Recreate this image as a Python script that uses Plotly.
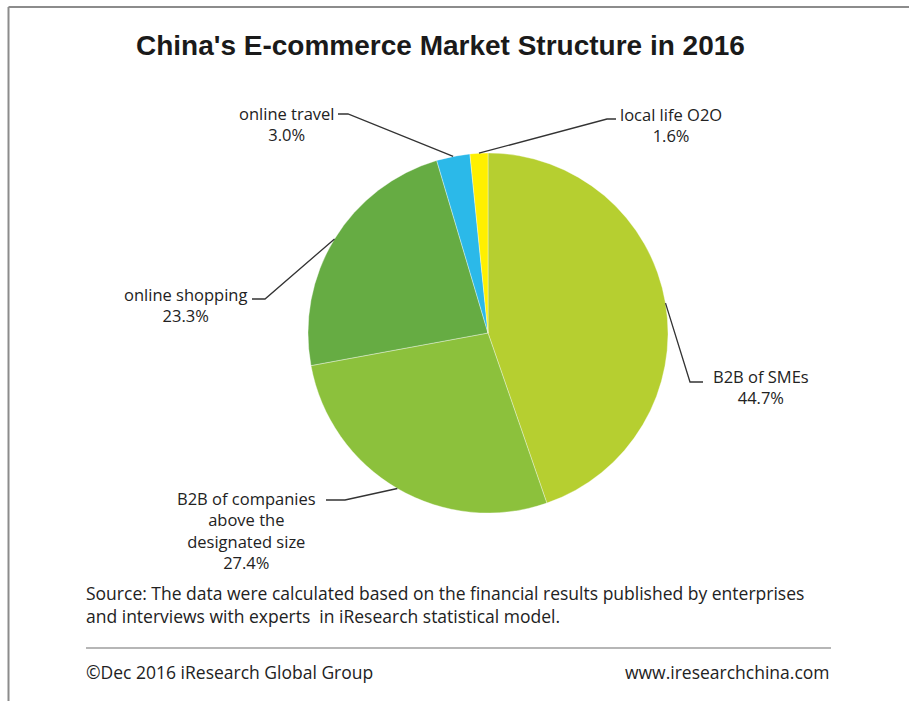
import math
import plotly.graph_objects as go

# Market share by segment, 2016 (%), clockwise from 12 o'clock
segments = ["B2B of SMEs", "B2B of companies above the designated size",
            "online shopping", "online travel", "local life O2O"]
shares = [44.7, 27.4, 23.3, 3.0, 1.6]
label_text = ["B2B of SMEs", "B2B of companies<br>above the<br>designated size",
              "online shopping", "online travel", "local life O2O"]
colors = ["#b6cf30", "#8cc13c", "#66ac43", "#2bb9e9", "#fff000"]

title = "China's E-commerce Market Structure in 2016"
source_lines = ["Source: The data were calculated based on the financial results published by enterprises",
                "and interviews with experts  in iResearch statistical model."]
copyright_note = "©Dec 2016 iResearch Global Group"
website = "www.iresearchchina.com"

W, H = 909, 701
CX, CY, R = 488, 333, 180  # pie centre and radius in pixels


def px(x):
    return x / W


def py(y):
    return 1 - y / H


LABEL_FONT = dict(family="Open Sans, Arial, sans-serif", size=16.5, color="#222222")
NOTE_FONT = dict(family="Open Sans, Arial, sans-serif", size=17.5, color="#222222")

# label placement per segment: text centre x, first-line centre y, elbow and end of leader
label_layout = {
    "B2B of SMEs": dict(tx=761, ty=375, knee=(690, 382), end=(703, 382)),
    "B2B of companies above the designated size": dict(tx=247, ty=497, knee=(345, 500), end=(326, 500)),
    "online shopping": dict(tx=185, ty=293, knee=(265, 299), end=(252, 299)),
    "online travel": dict(tx=287, ty=112, knee=(348, 114), end=(338, 114)),
    "local life O2O": dict(tx=671, ty=113, knee=(607, 119), end=(616, 119)),
}

fig = go.Figure(go.Pie(
    labels=segments,
    values=shares,
    sort=False,
    direction="clockwise",
    rotation=0,
    marker=dict(colors=colors, line=dict(color="rgba(255,255,255,0.6)", width=0.6)),
    textinfo="none",
    hoverinfo="label+value",
    showlegend=False,
    domain=dict(x=[px(CX - R), px(CX + R)], y=[py(CY + R), py(CY - R)]),
))

shapes = []
annotations = []
total = sum(shares)
cum = 0.0
for name, val, txt in zip(segments, shares, label_text):
    ang = 2 * math.pi * (cum + val / 2) / total
    cum += val
    rx = CX + R * math.sin(ang)
    ry = CY - R * math.cos(ang)
    lay = label_layout[name]
    (kx, ky), (ex, ey) = lay["knee"], lay["end"]
    shapes.append(dict(
        type="path", xref="paper", yref="paper",
        path=f"M {px(rx)} {py(ry)} L {px(kx)} {py(ky)} L {px(ex)} {py(ey)}",
        line=dict(color="#333333", width=1.3),
    ))
    annotations.append(dict(
        x=px(lay["tx"]), y=py(lay["ty"] - 12), xref="paper", yref="paper",
        xanchor="center", yanchor="top", align="center", showarrow=False,
        text=f"{txt}<br>{val:.1f}%", font=LABEL_FONT,
    ))

# frame lines at the top and left edges
shapes.append(dict(type="line", xref="paper", yref="paper",
                   x0=px(8.5), y0=py(7), x1=1, y1=py(7),
                   line=dict(color="#8c8c8c", width=2)))
shapes.append(dict(type="line", xref="paper", yref="paper",
                   x0=px(8.5), y0=py(7), x1=px(8.5), y1=0,
                   line=dict(color="#8c8c8c", width=2)))
# rule above the footer
shapes.append(dict(type="line", xref="paper", yref="paper",
                   x0=px(86), y0=py(648), x1=px(831), y1=py(648),
                   line=dict(color="#6e6e6e", width=1.2)))

annotations.append(dict(
    x=px(440), y=py(46), xref="paper", yref="paper", xanchor="center", yanchor="middle",
    showarrow=False, text=f"<b>{title}</b>",
    font=dict(family="Liberation Sans, Arial, sans-serif", size=28, color="#1a1a1a")))
annotations.append(dict(
    x=px(84), y=py(604), xref="paper", yref="paper", xanchor="left", yanchor="middle",
    align="left", showarrow=False, text="<br>".join(source_lines), font=NOTE_FONT))
annotations += [
    dict(x=px(84), y=py(672), xref="paper", yref="paper", xanchor="left", yanchor="middle",
         showarrow=False, text=copyright_note, font=NOTE_FONT),
    dict(x=px(832), y=py(672), xref="paper", yref="paper", xanchor="right", yanchor="middle",
         showarrow=False, text=website, font=NOTE_FONT),
]

fig.update_layout(
    width=W, height=H,
    margin=dict(l=0, r=0, t=0, b=0),
    paper_bgcolor="white", plot_bgcolor="white",
    shapes=shapes, annotations=annotations,
)

fig.write_html("out.html")
